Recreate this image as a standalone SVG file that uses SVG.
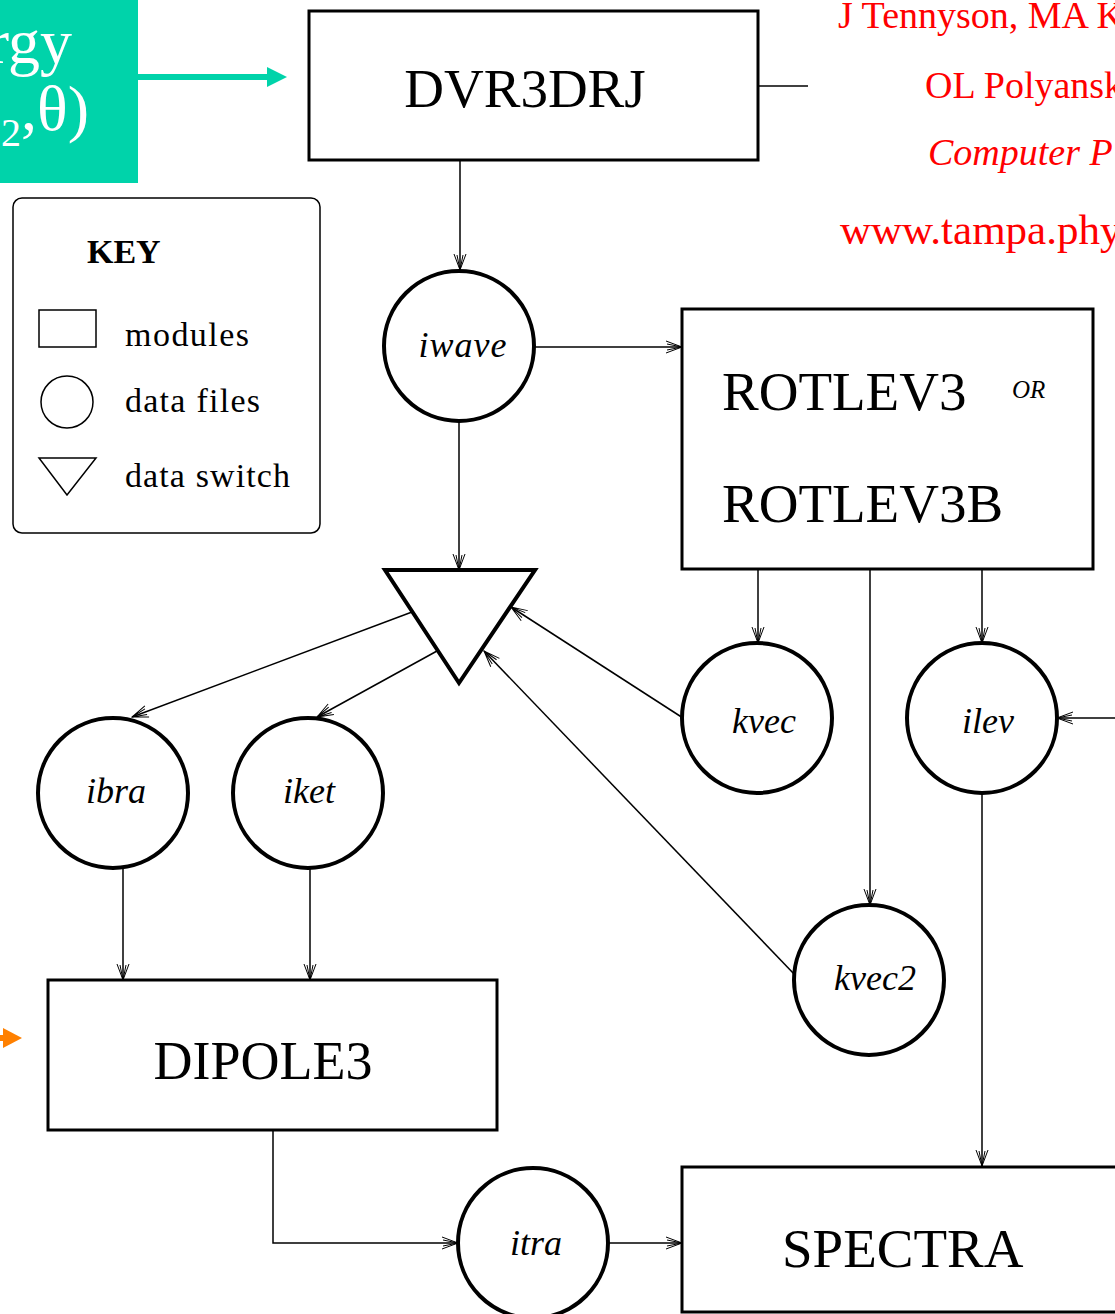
<svg xmlns="http://www.w3.org/2000/svg" width="1115" height="1314" viewBox="0 0 1115 1314">
<style>
.box{fill:#fff;stroke:#000;stroke-width:3}
.file{fill:#fff;stroke:#000;stroke-width:4}
.mod{font-family:"Liberation Serif","Times New Roman",serif;font-size:55px;fill:#000}
.lbl{font-family:"Liberation Serif","Times New Roman",serif;font-style:italic;font-size:36px;fill:#000;text-anchor:middle}
.key{font-family:"Liberation Serif","Times New Roman",serif;font-size:34px;fill:#000}
.red{font-family:"Liberation Serif","Times New Roman",serif;font-size:38px;fill:#f00}
.con{fill:none;stroke:#000;stroke-width:1.5}
</style>
<defs>
<marker id="arr" viewBox="-18 -9 20 18" refX="0" refY="0" markerWidth="20" markerHeight="18" markerUnits="userSpaceOnUse" orient="auto" overflow="visible">
<path d="M-16,-6 L0,0 L-16,6 M-15,-3 L0,0 L-15,3" fill="none" stroke="#000" stroke-width="1"/>
</marker>
</defs>
<rect width="1115" height="1314" fill="#fff"/>

<g id="energy-box">
<rect x="-2" y="-2" width="140" height="185" fill="#00D3AA"/>
<text x="72" y="63" text-anchor="end" font-family="Liberation Serif, serif" font-size="64" fill="#fff">rgy</text>
<text x="89" y="130" text-anchor="end" font-family="Liberation Serif, serif" font-size="64" fill="#fff"><tspan font-size="40" dy="16">2</tspan><tspan dy="-16">,θ)</tspan></text>
</g>
<g id="teal-arrow">
<line x1="138" y1="77" x2="270" y2="77" stroke="#00D3AA" stroke-width="6"/>
<polygon points="267,67 287,77 267,87" fill="#00D3AA"/>
</g>
<g id="orange-arrow">
<line x1="-5" y1="1038" x2="6" y2="1038" stroke="#FF8000" stroke-width="6"/>
<polygon points="3,1028 22,1038 3,1048" fill="#FF8000"/>
</g>

<g id="credits">
<text class="red" x="838" y="28">J Tennyson, MA K</text>
<text class="red" x="925" y="98">OL Polyansk</text>
<text class="red" x="928" y="165" style="font-style:italic">Computer P</text>
<text class="red" x="840" y="244" style="font-size:43px">www.tampa.phy</text>
</g>

<g id="key">
<rect x="13" y="198" width="307" height="335" rx="9" fill="#fff" stroke="#000" stroke-width="1.5"/>
<text x="87" y="263" font-family="Liberation Serif, serif" font-weight="bold" font-size="34">KEY</text>
<rect x="39" y="310" width="57" height="37" fill="none" stroke="#000" stroke-width="1.5"/>
<text class="key" x="125" y="346" textLength="124">modules</text>
<circle cx="67" cy="402" r="26" fill="none" stroke="#000" stroke-width="1.5"/>
<text class="key" x="125" y="412" textLength="135">data files</text>
<polygon points="39,458 96,458 67,495" fill="none" stroke="#000" stroke-width="1.5"/>
<text class="key" x="125" y="487" textLength="165">data switch</text>
</g>

<g id="connectors">
<line class="con" x1="758" y1="86" x2="808" y2="86"/>
<line class="con" x1="460" y1="160" x2="460" y2="270" marker-end="url(#arr)"/>
<line class="con" x1="535" y1="347" x2="682" y2="347" marker-end="url(#arr)"/>
<line class="con" x1="459" y1="422" x2="459" y2="570" marker-end="url(#arr)"/>
<line class="con" x1="758" y1="569" x2="758" y2="643" marker-end="url(#arr)"/>
<line class="con" x1="982" y1="569" x2="982" y2="643" marker-end="url(#arr)"/>
<line class="con" x1="870" y1="569" x2="870" y2="905" marker-end="url(#arr)"/>
<line class="con" x1="1115" y1="718" x2="1057" y2="718" marker-end="url(#arr)"/>
<line class="con" x1="982" y1="793" x2="982" y2="1166" marker-end="url(#arr)"/>
<line class="con" x1="683" y1="718" x2="511" y2="607" marker-end="url(#arr)"/>
<line class="con" x1="795" y1="975" x2="484" y2="651" marker-end="url(#arr)"/>
<line class="con" x1="412" y1="612" x2="132" y2="717" marker-end="url(#arr)"/>
<line class="con" x1="437" y1="651" x2="317" y2="717" marker-end="url(#arr)"/>
<line class="con" x1="123" y1="868" x2="123" y2="980" marker-end="url(#arr)"/>
<line class="con" x1="310" y1="868" x2="310" y2="980" marker-end="url(#arr)"/>
<polyline class="con" points="273,1130 273,1243 458,1243" marker-end="url(#arr)"/>
<line class="con" x1="608" y1="1243" x2="682" y2="1243" marker-end="url(#arr)"/>
</g>

<g id="DVR3DRJ">
<rect class="box" x="309" y="11" width="449" height="149"/>
<text class="mod" x="525" y="107" text-anchor="middle">DVR3DRJ</text>
</g>
<g id="iwave">
<circle class="file" cx="459" cy="346" r="75"/>
<text class="lbl" x="463" y="357" letter-spacing="1">iwave</text>
</g>
<g id="switch">
<polygon points="385,570 535,570 459,683" fill="#fff" stroke="#000" stroke-width="4" stroke-linejoin="miter"/>
</g>
<g id="ROTLEV3">
<rect class="box" x="682" y="309" width="411" height="260"/>
<text class="mod" x="722" y="410">ROTLEV3</text>
<text x="1012" y="398" font-family="Liberation Serif, serif" font-style="italic" font-size="25">OR</text>
<text class="mod" x="722" y="522">ROTLEV3B</text>
</g>
<g id="kvec">
<circle class="file" cx="757" cy="718" r="75"/>
<text class="lbl" x="764" y="733">kvec</text>
</g>
<g id="ilev">
<circle class="file" cx="982" cy="718" r="75"/>
<text class="lbl" x="988" y="733">ilev</text>
</g>
<g id="ibra">
<circle class="file" cx="113" cy="793" r="75"/>
<text class="lbl" x="116" y="803">ibra</text>
</g>
<g id="iket">
<circle class="file" cx="308" cy="793" r="75"/>
<text class="lbl" x="309" y="803">iket</text>
</g>
<g id="kvec2">
<circle class="file" cx="869" cy="980" r="75"/>
<text class="lbl" x="875" y="990">kvec2</text>
</g>
<g id="DIPOLE3">
<rect class="box" x="48" y="980" width="449" height="150"/>
<text class="mod" x="263" y="1079" text-anchor="middle" style="font-size:54px">DIPOLE3</text>
</g>
<g id="itra">
<circle class="file" cx="533" cy="1243" r="75"/>
<text class="lbl" x="536" y="1255">itra</text>
</g>
<g id="SPECTRA">
<rect class="box" x="682" y="1167" width="450" height="145"/>
<text class="mod" x="782" y="1267">SPECTRA</text>
</g>
</svg>
